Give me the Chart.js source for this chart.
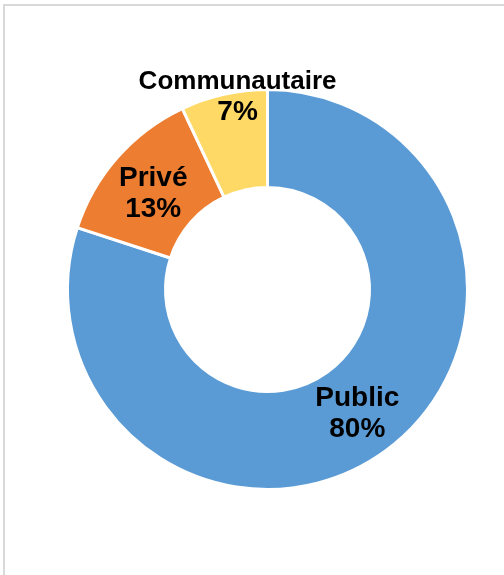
<!DOCTYPE html>
<html>
<head>
<meta charset="utf-8">
<script src="https://cdn.jsdelivr.net/npm/chart.js@4.4.1/dist/chart.umd.min.js"></script>
<style>
  html, body { margin: 0; padding: 0; background: #fff; }
  #frame {
    position: absolute; left: 3px; top: 4px; width: 520px; height: 600px;
    border-top: 2px solid #d9d9d9; border-left: 2px solid #d9d9d9;
  }
  #wrap { position: absolute; left: 0; top: 0; width: 504px; height: 575px; }
</style>
</head>
<body>
<div id="frame"></div>
<div id="wrap"><canvas id="myChart"></canvas></div>
<script>
// ***** DATA *****
let sectors = ['Public', 'Privé', 'Communautaire'];
let shares = [80, 13, 7];
let sectorColors = ['#5B9BD5', '#ED7D31', '#FFD966'];

// ***** LABEL PLUGIN *****
// label placement: fraction across the ring, plus a small nudge (px)
let labelRing = [0.5, 0.5, 0.5];
let labelNudge = [[1, 0], [-1, 2], [3, -47.5]];
let labelFont = [28, 28, 26];

const sliceLabels = {
  id: 'sliceLabels',
  afterDatasetsDraw(chart) {
    const c = chart.ctx;
    const arcs = chart.getDatasetMeta(0).data;
    c.save();
    c.fillStyle = '#000';
    c.textAlign = 'center';
    c.textBaseline = 'alphabetic';
    arcs.forEach(function (arc, i) {
      const p = arc.getProps(['x', 'y', 'startAngle', 'endAngle', 'innerRadius', 'outerRadius'], true);
      const mid = (p.startAngle + p.endAngle) / 2;
      const r = p.innerRadius + (p.outerRadius - p.innerRadius) * labelRing[i];
      const cx = p.x + Math.cos(mid) * r + labelNudge[i][0];
      const cy = p.y + Math.sin(mid) * r + labelNudge[i][1];
      c.font = 'bold ' + labelFont[i] + 'px "Liberation Sans", Arial, sans-serif';
      c.fillText(sectors[i], cx, cy - 5.5);
      c.font = 'bold 28px "Liberation Sans", Arial, sans-serif';
      c.fillText(shares[i] + '%', cx, cy + 25.5);
    });
    c.restore();
  }
};

// ***** CHART *****
const ctx = document.getElementById('myChart').getContext('2d');
new Chart(ctx, {
  type: 'doughnut',
  data: {
    labels: sectors,
    datasets: [{
      data: shares,
      backgroundColor: sectorColors,
      borderColor: '#ffffff',
      borderWidth: 3
    }]
  },
  options: {
    responsive: true,
    maintainAspectRatio: false,
    animation: false,
    cutout: '51%',
    layout: { padding: { top: 88, bottom: 84, left: 66, right: 35 } },
    plugins: {
      legend: { display: false },
      tooltip: { enabled: false }
    }
  },
  plugins: [sliceLabels]
});
</script>
</body>
</html>
